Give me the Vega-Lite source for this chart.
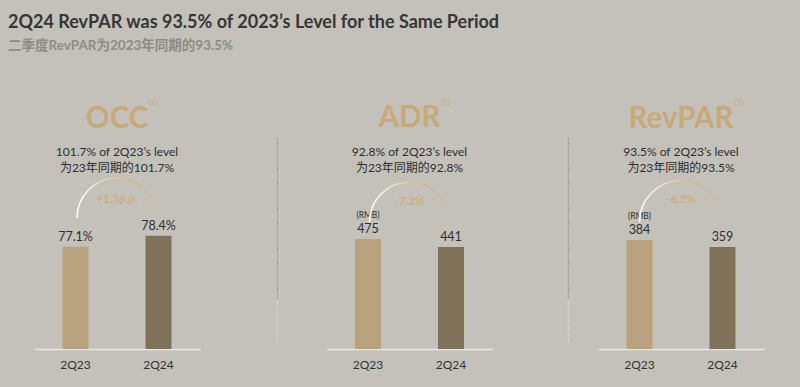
{
  "$schema": "https://vega.github.io/schema/vega-lite/v6.json",
  "background": "#c4c1bb",
  "padding": {"left": 8, "top": 14, "right": 50, "bottom": 40},
  "title": {
    "text": "2Q24 RevPAR was 93.5% of 2023’s Level for the Same Period",
    "subtitle": "二季度RevPAR为2023年同期的93.5%",
    "anchor": "start",
    "dx": -26,
    "dy": 0,
    "font": "Lato, Noto Sans CJK SC",
    "fontSize": 18,
    "fontWeight": "bold",
    "color": "#363636",
    "subtitleFont": "Lato, Noto Sans CJK SC",
    "subtitleFontSize": 13.5,
    "subtitleFontWeight": "bold",
    "subtitleColor": "#8e8b86",
    "subtitlePadding": 7,
    "offset": 46
  },
  "bounds": "flush",
  "spacing": 126.5,
  "hconcat": [
    {
      "width": 166,
      "height": 169,
      "title": {"text": "OCC", "subtitle": ["101.7% of 2Q23’s level", "为23年同期的101.7%"]},
      "data": {"values": [
        {"period": "2Q23", "value": 77.1, "label": "77.1%", "unit": ""},
        {"period": "2Q24", "value": 78.4, "label": "78.4%", "unit": ""}
      ]},
      "layer": [
        {"mark": {"type": "bar", "width": 26},
         "encoding": {
           "x": {"field": "period", "type": "nominal", "axis": {"title": null, "labelAngle": 0}},
           "y": {"field": "value", "type": "quantitative", "scale": {"domain": [65, 85]}, "axis": null},
           "y2": {"datum": 65},
           "color": {"field": "period", "type": "nominal", "scale": {"domain": ["2Q23", "2Q24"], "range": ["#b9a37e", "#7f7259"]}, "legend": null}
         }},
        {"mark": {"type": "text", "dy": -10, "fontSize": 12.5, "color": "#2e2e2e"},
         "encoding": {
           "x": {"field": "period", "type": "nominal"},
           "y": {"field": "value", "type": "quantitative", "scale": {"domain": [65, 85]}},
           "text": {"field": "label"}
         }},
        {"data": {"values": [{}]},
         "mark": {"type": "point", "shape": "M-1,0A1,1,0,0,1,1,0", "size": 6400, "filled": false, "opacity": 1, "strokeWidth": 1.6,
                  "stroke": {"gradient": "linear", "stops": [{"offset": 0, "color": "#ffffff"}, {"offset": 0.35, "color": "#e6d6b6"}, {"offset": 0.7, "color": "#cfb283"}, {"offset": 1, "color": "#c8bfae"}]}},
         "encoding": {"y": {"datum": 80.5, "type": "quantitative", "scale": {"domain": [65, 85]}}}},
        {"data": {"values": [{}]},
         "mark": {"type": "text", "text": "+1.3p.p.", "fontWeight": "bold", "fontSize": 11.5, "color": "#cdae78"},
         "encoding": {"y": {"datum": 82.6, "type": "quantitative", "scale": {"domain": [65, 85]}}}},
        {"data": {"values": [{}]},
         "mark": {"type": "text", "text": "(1)", "fontSize": 8, "dx": 36, "color": "#c8aa78"},
         "encoding": {"y": {"datum": 94.1, "type": "quantitative", "scale": {"domain": [65, 85]}}}}
      ]
    },
    {
      "bounds": "flush",
      "spacing": 105.5,
      "hconcat": [
        {
          "width": 166,
          "height": 169,
          "title": {"text": "ADR", "subtitle": ["92.8% of 2Q23’s level", "为23年同期的92.8%"]},
          "resolve": {"scale": {"x": "independent", "y": "independent"}},
          "layer": [
            {
              "data": {"values": [
                {"period": "2Q23", "value": 475, "label": "475", "unit": "(RMB)"},
                {"period": "2Q24", "value": 441, "label": "441", "unit": ""}
              ]},
              "layer": [
                {"mark": {"type": "bar", "width": 26},
                 "encoding": {
                   "x": {"field": "period", "type": "nominal", "axis": {"title": null, "labelAngle": 0}},
                   "y": {"field": "value", "type": "quantitative", "scale": {"domain": [0, 730]}, "axis": null},
                   "color": {"field": "period", "type": "nominal", "scale": {"domain": ["2Q23", "2Q24"], "range": ["#b9a37e", "#7f7259"]}, "legend": null}
                 }},
                {"mark": {"type": "text", "dy": -10, "fontSize": 12.5, "color": "#2e2e2e"},
                 "encoding": {
                   "x": {"field": "period", "type": "nominal"},
                   "y": {"field": "value", "type": "quantitative", "scale": {"domain": [0, 730]}},
                   "text": {"field": "label"}
                 }},
                {"mark": {"type": "text", "dy": -24, "fontSize": 8.5, "color": "#2e2e2e"},
                 "encoding": {
                   "x": {"field": "period", "type": "nominal"},
                   "y": {"field": "value", "type": "quantitative", "scale": {"domain": [0, 730]}},
                   "text": {"field": "unit"}
                 }},
                {"data": {"values": [{}]},
                 "mark": {"type": "point", "shape": "M-1,0A1,1,0,0,1,1,0", "size": 6400, "filled": false, "opacity": 1, "strokeWidth": 1.6,
                          "stroke": {"gradient": "linear", "stops": [{"offset": 0, "color": "#ffffff"}, {"offset": 0.35, "color": "#e6d6b6"}, {"offset": 0.7, "color": "#cfb283"}, {"offset": 1, "color": "#c8bfae"}]}},
                 "encoding": {"y": {"datum": 548, "type": "quantitative", "scale": {"domain": [0, 730]}}}},
                {"data": {"values": [{}]},
                 "mark": {"type": "text", "text": "-7.2%", "fontWeight": "bold", "fontSize": 11.5, "color": "#cdae78"},
                 "encoding": {"y": {"datum": 635, "type": "quantitative", "scale": {"domain": [0, 730]}}}},
                {"data": {"values": [{}]},
                 "mark": {"type": "text", "text": "(1)", "fontSize": 8, "dx": 36, "color": "#c8aa78"},
                 "encoding": {"y": {"datum": 1063, "type": "quantitative", "scale": {"domain": [0, 730]}}}}
              ]
            },
            {
              "data": {"values": [{}]},
              "layer": [
                {"mark": {"type": "rule", "strokeDash": [1, 1.5], "strokeWidth": 1.2, "color": "#8a8578"},
                 "encoding": {
                   "x": {"datum": -0.295, "type": "quantitative", "scale": {"domain": [0, 1]}, "axis": null},
                   "y": {"datum": 1.2485, "type": "quantitative", "scale": {"domain": [0, 1]}, "axis": null},
                   "y2": {"datum": 0.29}
                 }},
                {"mark": {"type": "rule", "strokeDash": [1, 1.5], "strokeWidth": 1.2, "color": "#ebe3cf"},
                 "encoding": {
                   "x": {"datum": -0.295, "type": "quantitative", "scale": {"domain": [0, 1]}, "axis": null},
                   "y": {"datum": 0.29, "type": "quantitative", "scale": {"domain": [0, 1]}, "axis": null},
                   "y2": {"datum": 0.0355}
                 }}
              ]
            }
          ]
        },
        {
          "width": 166,
          "height": 169,
          "title": {"text": "RevPAR", "subtitle": ["93.5% of 2Q23’s level", "为23年同期的93.5%"]},
          "resolve": {"scale": {"x": "independent", "y": "independent"}},
          "layer": [
            {
              "data": {"values": [
                {"period": "2Q23", "value": 384, "label": "384", "unit": "(RMB)"},
                {"period": "2Q24", "value": 359, "label": "359", "unit": ""}
              ]},
              "layer": [
                {"mark": {"type": "bar", "width": 26},
                 "encoding": {
                   "x": {"field": "period", "type": "nominal", "axis": {"title": null, "labelAngle": 0}},
                   "y": {"field": "value", "type": "quantitative", "scale": {"domain": [0, 595]}, "axis": null},
                   "color": {"field": "period", "type": "nominal", "scale": {"domain": ["2Q23", "2Q24"], "range": ["#b9a37e", "#7f7259"]}, "legend": null}
                 }},
                {"mark": {"type": "text", "dy": -10, "fontSize": 12.5, "color": "#2e2e2e"},
                 "encoding": {
                   "x": {"field": "period", "type": "nominal"},
                   "y": {"field": "value", "type": "quantitative", "scale": {"domain": [0, 595]}},
                   "text": {"field": "label"}
                 }},
                {"mark": {"type": "text", "dy": -24, "fontSize": 8.5, "color": "#2e2e2e"},
                 "encoding": {
                   "x": {"field": "period", "type": "nominal"},
                   "y": {"field": "value", "type": "quantitative", "scale": {"domain": [0, 595]}},
                   "text": {"field": "unit"}
                 }},
                {"data": {"values": [{}]},
                 "mark": {"type": "point", "shape": "M-1,0A1,1,0,0,1,1,0", "size": 6889, "filled": false, "opacity": 1, "strokeWidth": 1.6,
                          "stroke": {"gradient": "linear", "stops": [{"offset": 0, "color": "#ffffff"}, {"offset": 0.35, "color": "#e6d6b6"}, {"offset": 0.7, "color": "#cfb283"}, {"offset": 1, "color": "#c8bfae"}]}},
                 "encoding": {"y": {"datum": 447, "type": "quantitative", "scale": {"domain": [0, 595]}}}},
                {"data": {"values": [{}]},
                 "mark": {"type": "text", "text": "-6.5%", "fontWeight": "bold", "fontSize": 11.5, "color": "#cdae78"},
                 "encoding": {"y": {"datum": 525, "type": "quantitative", "scale": {"domain": [0, 595]}}}},
                {"data": {"values": [{}]},
                 "mark": {"type": "text", "text": "(1)", "fontSize": 8, "dx": 58, "color": "#c8aa78"},
                 "encoding": {"y": {"datum": 866, "type": "quantitative", "scale": {"domain": [0, 595]}}}}
              ]
            },
            {
              "data": {"values": [{}]},
              "layer": [
                {"mark": {"type": "rule", "strokeDash": [1, 1.5], "strokeWidth": 1.2, "color": "#8a8578"},
                 "encoding": {
                   "x": {"datum": -0.178, "type": "quantitative", "scale": {"domain": [0, 1]}, "axis": null},
                   "y": {"datum": 1.2485, "type": "quantitative", "scale": {"domain": [0, 1]}, "axis": null},
                   "y2": {"datum": 0.29}
                 }},
                {"mark": {"type": "rule", "strokeDash": [1, 1.5], "strokeWidth": 1.2, "color": "#ebe3cf"},
                 "encoding": {
                   "x": {"datum": -0.178, "type": "quantitative", "scale": {"domain": [0, 1]}, "axis": null},
                   "y": {"datum": 0.29, "type": "quantitative", "scale": {"domain": [0, 1]}, "axis": null},
                   "y2": {"datum": 0.0355}
                 }}
              ]
            }
          ]
        }
      ]
    }
  ],
  "config": {
    "view": {"stroke": null},
    "scale": {"bandPaddingInner": 0, "bandPaddingOuter": 0},
    "axis": {"domainColor": "#ece8df", "domainWidth": 1.5, "ticks": false, "grid": false, "labelFont": "Lato", "labelFontSize": 12, "labelColor": "#333333", "labelPadding": 10},
    "text": {"font": "Lato, Noto Sans CJK SC"},
    "title": {
      "font": "Lato, Noto Sans CJK SC", "fontSize": 29.5, "fontWeight": "bold", "color": "#c8aa78",
      "subtitleFont": "Lato, Noto Sans CJK SC", "subtitleFontSize": 12, "subtitleColor": "#2e2e2e",
      "subtitlePadding": 13, "subtitleLineHeight": 16, "offset": 6, "dy": 82
    }
  }
}
